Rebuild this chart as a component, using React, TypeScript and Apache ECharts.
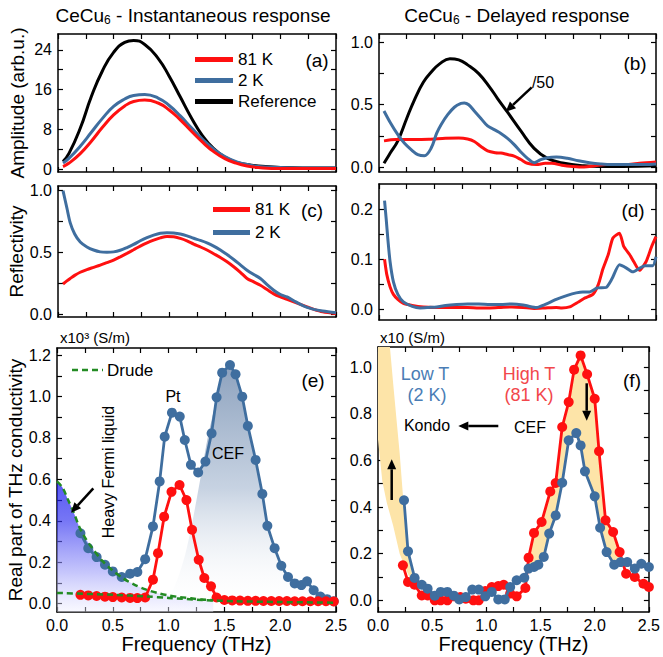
import React, { useEffect, useRef } from 'react';
import * as echarts from 'echarts';

const FONT = '"Liberation Sans", Arial, Helvetica, sans-serif';
const RED = '#ff1010';
const BLUE = '#3f6e9f';
const BLACK = '#000000';
const GREEN = '#238b23';
const YELLOW = '#fde4a8';

// ---- tick values ----
const X_TICKS = [0, 0.25, 0.5, 0.75, 1, 1.25, 1.5, 1.75, 2, 2.25, 2.5];
const X_LABELS = [0, 0.5, 1, 1.5, 2, 2.5];
const A_TICKS = [0, 4, 8, 12, 16, 20, 24];
const A_LABELS = [0, 8, 16, 24];
const B_TICKS = [0, 0.25, 0.5, 0.75, 1];
const B_LABELS = [0, 0.5, 1];
const C_TICKS = [0, 0.25, 0.5, 0.75, 1];
const C_LABELS = [0, 0.5, 1];
const D_TICKS = [0, 0.05, 0.1, 0.15, 0.2];
const D_LABELS = [0, 0.1, 0.2];
const E_TICKS = [0, 0.1, 0.2, 0.3, 0.4, 0.5, 0.6, 0.7, 0.8, 0.9, 1.0, 1.1, 1.2];
const E_LABELS = [0, 0.2, 0.4, 0.6, 0.8, 1.0, 1.2];
const F_TICKS = [0, 0.1, 0.2, 0.3, 0.4, 0.5, 0.6, 0.7, 0.8, 0.9, 1.0];
const F_LABELS = [0, 0.2, 0.4, 0.6, 0.8, 1.0];

// ---- panel (a): instantaneous amplitude ----
const aX = [0.045, 0.1, 0.2, 0.3, 0.4, 0.5, 0.6, 0.68, 0.78, 0.9, 1.0, 1.1, 1.2, 1.3, 1.4, 1.5, 1.6, 1.7, 1.8, 2.0, 2.2, 2.5];
const aRef = [1.5, 3.2, 8.2, 14.6, 19.8, 23.5, 25.5, 25.9, 25.1, 22.3, 18.7, 14.5, 10.3, 6.7, 4.1, 2.4, 1.4, 0.9, 0.6, 0.3, 0.2, 0.2];
const a2K = [1.2, 2.2, 4.6, 7.4, 10.2, 12.6, 14.1, 14.8, 15.0, 14.3, 12.8, 10.7, 8.3, 6.0, 4.0, 2.5, 1.5, 0.9, 0.5, 0.3, 0.2, 0.2];
const a81K = [0.5, 1.2, 3.1, 5.6, 8.4, 10.9, 12.7, 13.6, 13.9, 13.3, 11.9, 9.9, 7.6, 5.4, 3.5, 2.1, 1.2, 0.6, 0.3, 0.1, 0.1, 0.1];

// ---- panel (b): delayed amplitude ----
const bRefX = [0.045, 0.1, 0.17, 0.25, 0.32, 0.4, 0.47, 0.55, 0.64, 0.72, 0.8, 0.9, 1.0, 1.07, 1.16, 1.28, 1.4, 1.52, 1.67, 1.85, 2.0, 2.2, 2.5];
const bRef = [0.03, 0.11, 0.21, 0.39, 0.54, 0.68, 0.76, 0.83, 0.87, 0.86, 0.82, 0.75, 0.64, 0.55, 0.44, 0.29, 0.15, 0.07, 0.03, 0.01, 0.005, 0.005, 0.01];
const b2KX = [0.045, 0.1, 0.17, 0.23, 0.29, 0.35, 0.41, 0.47, 0.52, 0.56, 0.62, 0.68, 0.74, 0.77, 0.81, 0.86, 0.92, 0.98, 1.04, 1.1, 1.16, 1.22, 1.28, 1.34, 1.4, 1.46, 1.52, 1.6, 1.7, 1.8, 1.9, 2.0, 2.1, 2.2, 2.3, 2.4, 2.5];
const b2K = [0.45, 0.36, 0.26, 0.19, 0.14, 0.1, 0.09, 0.15, 0.27, 0.34, 0.42, 0.48, 0.51, 0.515, 0.5, 0.45, 0.39, 0.33, 0.3, 0.27, 0.23, 0.18, 0.12, 0.07, 0.035, 0.06, 0.075, 0.08, 0.07, 0.05, 0.035, 0.025, 0.02, 0.02, 0.02, 0.02, 0.025];
const b81KX = [0.045, 0.15, 0.3, 0.45, 0.6, 0.72, 0.8, 0.86, 0.92, 0.98, 1.05, 1.1, 1.16, 1.22, 1.28, 1.34, 1.42, 1.5, 1.56, 1.65, 1.75, 1.85, 1.95, 2.05, 2.15, 2.25, 2.35, 2.5];
const b81K = [0.21, 0.22, 0.22, 0.222, 0.23, 0.233, 0.225, 0.205, 0.165, 0.13, 0.115, 0.112, 0.1, 0.088, 0.06, 0.03, 0.02, 0.03, 0.03, 0.015, 0.005, 0.0, 0.01, 0.02, 0.02, 0.02, 0.03, 0.04];

// ---- panel (c): instantaneous reflectivity ----
const cX = [0.045, 0.08, 0.11, 0.15, 0.2, 0.26, 0.32, 0.38, 0.44, 0.5, 0.56, 0.62, 0.68, 0.74, 0.8, 0.86, 0.92, 0.98, 1.04, 1.1, 1.16, 1.22, 1.28, 1.34, 1.4, 1.46, 1.52, 1.58, 1.64, 1.7, 1.76, 1.82, 1.88, 1.94, 2.0, 2.06, 2.12, 2.18, 2.24, 2.3, 2.38, 2.5];
const c2K = [1.0, 0.86, 0.74, 0.65, 0.585, 0.545, 0.52, 0.505, 0.502, 0.505, 0.518, 0.54, 0.565, 0.595, 0.62, 0.64, 0.655, 0.66, 0.658, 0.65, 0.635, 0.615, 0.598, 0.578, 0.552, 0.52, 0.483, 0.443, 0.4, 0.357, 0.322, 0.29, 0.24, 0.195, 0.16, 0.14, 0.11, 0.08, 0.056, 0.04, 0.027, 0.012];
const c81K = [0.245, 0.27, 0.29, 0.315, 0.34, 0.362, 0.38, 0.398, 0.418, 0.438, 0.465, 0.493, 0.522, 0.552, 0.578, 0.6, 0.618, 0.63, 0.628, 0.614, 0.594, 0.568, 0.545, 0.52, 0.49, 0.46, 0.425, 0.385, 0.34, 0.29, 0.262, 0.235, 0.2, 0.165, 0.14, 0.12, 0.1, 0.08, 0.06, 0.04, 0.02, 0.005];

// ---- panel (d): delayed reflectivity ----
const d2KX = [0.05, 0.065, 0.08, 0.1, 0.13, 0.17, 0.22, 0.3, 0.37, 0.45, 0.52, 0.6, 0.7, 0.8, 0.9, 1.0, 1.1, 1.2, 1.3, 1.36, 1.42, 1.5, 1.6, 1.7, 1.78, 1.84, 1.9, 1.97, 2.05, 2.1, 2.17, 2.23, 2.29, 2.35, 2.4, 2.47, 2.5];
const d2K = [0.217, 0.18, 0.14, 0.095, 0.055, 0.03, 0.015, 0.006, 0.003, 0.004, 0.005, 0.008, 0.01, 0.011, 0.011, 0.01, 0.01, 0.011, 0.009, 0.006, 0.004, 0.01, 0.02, 0.028, 0.033, 0.035, 0.035, 0.043, 0.044, 0.06, 0.089, 0.083, 0.075, 0.082, 0.087, 0.087, 0.105];
const d81KX = [0.05, 0.07, 0.1, 0.13, 0.17, 0.22, 0.3, 0.4, 0.5, 0.6, 0.7, 0.8, 0.9, 1.0, 1.1, 1.2, 1.3, 1.4, 1.5, 1.6, 1.65, 1.72, 1.8, 1.86, 1.93, 1.98, 2.02, 2.07, 2.11, 2.17, 2.21, 2.26, 2.3, 2.35, 2.41, 2.46, 2.5];
const d81K = [0.1, 0.07, 0.045, 0.03, 0.02, 0.012, 0.008, 0.005, 0.004, 0.004, 0.004, 0.004, 0.003, 0.003, 0.004, 0.005, 0.004, 0.002, 0.003, 0.004, 0.003, 0.005, 0.015, 0.023, 0.03, 0.05, 0.08, 0.11, 0.142, 0.152, 0.125, 0.11, 0.095, 0.078, 0.095, 0.125, 0.145];

// ---- panel (e): instantaneous conductivity (x10^3 S/m) ----
const e2KX = [0.21, 0.28, 0.355, 0.43, 0.5, 0.58, 0.655, 0.72, 0.79, 0.86, 0.92, 0.965, 1.03, 1.1, 1.145, 1.2, 1.265, 1.33, 1.385, 1.43, 1.48, 1.55, 1.6, 1.66, 1.71, 1.78, 1.84, 1.885, 1.95, 2.01, 2.07, 2.13, 2.19, 2.24, 2.3, 2.36, 2.42, 2.48];
const e2K = [0.34, 0.268, 0.225, 0.188, 0.156, 0.129, 0.145, 0.153, 0.215, 0.373, 0.59, 0.806, 0.922, 0.903, 0.79, 0.67, 0.633, 0.686, 0.822, 0.996, 1.115, 1.152, 1.107, 0.999, 0.858, 0.694, 0.53, 0.376, 0.268, 0.183, 0.129, 0.098, 0.09, 0.108, 0.065, 0.035, 0.022, 0.012];
const e81KX = [0.21, 0.28, 0.355, 0.43, 0.5, 0.58, 0.655, 0.72, 0.79, 0.86, 0.905, 0.96, 1.026, 1.098, 1.16, 1.21, 1.27, 1.32, 1.38, 1.43, 1.5, 1.57, 1.64, 1.71, 1.78, 1.85, 1.92, 1.99, 2.06, 2.13, 2.2, 2.27, 2.34, 2.41, 2.48];
const e81K = [0.043, 0.04, 0.037, 0.034, 0.032, 0.03, 0.028, 0.027, 0.03, 0.116, 0.244, 0.42, 0.54, 0.573, 0.5, 0.357, 0.212, 0.124, 0.084, 0.03, 0.018, 0.016, 0.015, 0.014, 0.014, 0.013, 0.013, 0.013, 0.013, 0.012, 0.012, 0.012, 0.012, 0.012, 0.011];
const drudeHiX = [0, 0.05, 0.1, 0.15, 0.2, 0.25, 0.3, 0.4, 0.5, 0.6, 0.7, 0.8, 0.9, 1.0, 1.1, 1.2, 1.3, 1.4];
const drudeHi = [0.59, 0.56, 0.5, 0.44, 0.37, 0.32, 0.28, 0.21, 0.16, 0.12, 0.09, 0.068, 0.052, 0.04, 0.032, 0.026, 0.02, 0.017];
const drudeLoX = [0, 0.5, 0.8, 1.0, 1.3, 1.6, 2.0, 2.5];
const drudeLo = [0.052, 0.043, 0.035, 0.028, 0.018, 0.012, 0.008, 0.005];
const cefFillX = [0.9, 1.0, 1.05, 1.1, 1.15, 1.2, 1.25, 1.3, 1.35, 1.4, 1.45, 1.5, 1.55, 1.6, 1.66, 1.71, 1.78, 1.84, 1.885, 1.95, 2.01, 2.07, 2.13, 2.19, 2.24, 2.3, 2.36, 2.42, 2.48];
const cefFill = [0, 0.03, 0.08, 0.15, 0.24, 0.36, 0.5, 0.65, 0.8, 0.92, 1.04, 1.12, 1.152, 1.107, 0.999, 0.858, 0.694, 0.53, 0.376, 0.268, 0.183, 0.129, 0.098, 0.09, 0.108, 0.065, 0.035, 0.022, 0.012];

// ---- panel (f): delayed conductivity (x10 S/m) ----
const f2KX = [0.24, 0.277, 0.338, 0.404, 0.458, 0.524, 0.578, 0.64, 0.70, 0.75, 0.81, 0.87, 0.93, 0.99, 1.05, 1.11, 1.17, 1.22, 1.28, 1.35, 1.39, 1.44, 1.48, 1.53, 1.58, 1.64, 1.70, 1.76, 1.83, 1.87, 1.91, 2.0, 2.05, 2.11, 2.18, 2.24, 2.30, 2.37, 2.43, 2.50];
const f2K = [0.429, 0.21, 0.096, 0.067, 0.05, 0.02, 0.036, 0.036, 0.02, 0.004, 0.014, 0.046, 0.046, 0.017, 0.036, 0.004, 0.004, 0.057, 0.086, 0.097, 0.136, 0.143, 0.153, 0.186, 0.286, 0.364, 0.504, 0.686, 0.717, 0.664, 0.553, 0.446, 0.311, 0.207, 0.153, 0.164, 0.164, 0.136, 0.157, 0.143];
const f81KX = [0.23, 0.277, 0.338, 0.404, 0.458, 0.524, 0.578, 0.64, 0.70, 0.76, 0.81, 0.88, 0.93, 0.99, 1.05, 1.11, 1.16, 1.22, 1.28, 1.36, 1.39, 1.44, 1.51, 1.59, 1.64, 1.70, 1.76, 1.81, 1.87, 1.93, 2.00, 2.04, 2.10, 2.17, 2.23, 2.29, 2.37, 2.45, 2.50];
const f81K = [0.15, 0.079, 0.067, 0.021, 0.021, 0.0, 0.0, 0.0, 0.017, 0.014, 0.007, 0.0, 0.0, 0.04, 0.057, 0.061, 0.067, 0.029, 0.017, 0.053, 0.183, 0.289, 0.336, 0.467, 0.503, 0.743, 0.85, 0.989, 1.05, 0.969, 0.864, 0.639, 0.343, 0.293, 0.207, 0.114, 0.1, 0.071, 0.057];
const kondoX = [0, 0.04, 0.08, 0.11, 0.14, 0.17, 0.2, 0.23, 0.26, 0.29, 0.32, 0.34];
const kondoUp = [1.7, 1.45, 1.25, 1.086, 0.93, 0.78, 0.63, 0.45, 0.3, 0.17, 0.1, 0.08];
const kondoLo = [0.69, 0.51, 0.42, 0.37, 0.32, 0.26, 0.2, 0.165, 0.13, 0.1, 0.085, 0.08];

const zip = (xs: number[], ys: number[]) => xs.map((x, i) => [x, ys[i]]);

type Panel = {
  left: number; top: number; width: number; height: number;
  yMin: number; yMax: number; yTicks: number[]; yLabels: number[];
  yFmt: (v: number) => string; xLabels: boolean; xName?: string; yName?: string; yNameGap?: number;
};

const fx1 = (v: number) => v.toFixed(1);

const PANELS: Panel[] = [
  { left: 58, top: 34, width: 278, height: 138, yMin: -0.6, yMax: 27.2, yTicks: A_TICKS, yLabels: A_LABELS, yFmt: (v) => String(Math.round(v)), xLabels: false, yName: 'Amplitude (arb.u.)', yNameGap: 31 },
  { left: 379, top: 34, width: 277, height: 138, yMin: -0.04, yMax: 1.068, yTicks: B_TICKS, yLabels: B_LABELS, yFmt: fx1, xLabels: false },
  { left: 58, top: 186, width: 278, height: 131, yMin: -0.022, yMax: 1.038, yTicks: C_TICKS, yLabels: C_LABELS, yFmt: fx1, xLabels: false, yName: 'Reflectivity', yNameGap: 31 },
  { left: 379, top: 184, width: 277, height: 136, yMin: -0.021, yMax: 0.25, yTicks: D_TICKS, yLabels: D_LABELS, yFmt: fx1, xLabels: false },
  { left: 57, top: 348, width: 279, height: 264, yMin: -0.04, yMax: 1.234, yTicks: E_TICKS, yLabels: E_LABELS, yFmt: fx1, xLabels: true, xName: 'Frequency (THz)', yName: 'Real part of THz conductivity', yNameGap: 30 },
  { left: 378, top: 347, width: 278, height: 265, yMin: -0.05, yMax: 1.086, yTicks: F_TICKS, yLabels: F_LABELS, yFmt: fx1, xLabels: true, xName: 'Frequency (THz)' },
];

const axisLine = { show: true, onZero: false, lineStyle: { color: '#000', width: 1.5 } };
const tickStyle = { color: '#000', width: 1.2 };

function buildAxes() {
  const grid: any[] = [];
  const xAxis: any[] = [];
  const yAxis: any[] = [];
  PANELS.forEach((p, gi) => {
    grid.push({ left: p.left, top: p.top, width: p.width, height: p.height, containLabel: false });
    xAxis.push({
      type: 'value', gridIndex: gi, position: 'bottom', min: 0, max: 2.5,
      axisLine, splitLine: { show: false },
      axisTick: { show: true, inside: true, length: 5, customValues: X_TICKS, lineStyle: tickStyle },
      axisLabel: { show: p.xLabels, customValues: X_LABELS, formatter: fx1, fontSize: 16, color: '#000', fontFamily: FONT, margin: 5 },
      name: p.xName || '', nameLocation: 'middle', nameGap: 21,
      nameTextStyle: { fontSize: 20, color: '#000', fontFamily: FONT },
    });
    xAxis.push({
      type: 'value', gridIndex: gi, position: 'top', min: 0, max: 2.5,
      axisLine, splitLine: { show: false },
      axisTick: { show: true, inside: true, length: 5, customValues: X_TICKS, lineStyle: tickStyle },
      axisLabel: { show: false },
    });
    yAxis.push({
      type: 'value', gridIndex: gi, position: 'left', min: p.yMin, max: p.yMax,
      axisLine, splitLine: { show: false },
      axisTick: { show: true, inside: true, length: 5, customValues: p.yTicks, lineStyle: tickStyle },
      axisLabel: { show: true, customValues: p.yLabels, formatter: p.yFmt, fontSize: 16, color: '#000', fontFamily: FONT, margin: 6 },
      name: p.yName || '', nameLocation: 'middle', nameGap: p.yNameGap || 30,
      nameTextStyle: { fontSize: 19, color: '#000', fontFamily: FONT },
    });
    yAxis.push({
      type: 'value', gridIndex: gi, position: 'right', min: p.yMin, max: p.yMax,
      axisLine, splitLine: { show: false },
      axisTick: { show: true, inside: true, length: 5, customValues: p.yTicks, lineStyle: tickStyle },
      axisLabel: { show: false },
    });
  });
  return { grid, xAxis, yAxis };
}

function curve(name: string, gi: number, xs: number[], ys: number[], color: string, smooth = 0.45, width = 3) {
  return {
    type: 'line', name, xAxisIndex: 2 * gi, yAxisIndex: 2 * gi,
    data: zip(xs, ys), symbol: 'none', smooth,
    color, lineStyle: { color, width }, z: 3, silent: true,
  };
}

function dots(name: string, gi: number, xs: number[], ys: number[], color: string, z = 4) {
  return {
    type: 'line', name, xAxisIndex: 2 * gi, yAxisIndex: 2 * gi,
    data: zip(xs, ys), symbol: 'circle', symbolSize: 10, showSymbol: true,
    color, itemStyle: { color }, lineStyle: { color, width: 2.8 }, z, silent: true,
  };
}

function band(gi: number, upper: number[][], lower: number[][], color: string) {
  return {
    type: 'custom', xAxisIndex: 2 * gi, yAxisIndex: 2 * gi, silent: true, z: 1,
    data: [upper[upper.length - 1]],
    renderItem: (params: any, api: any) => {
      const pts = upper.map((p) => api.coord(p)).concat(lower.slice().reverse().map((p) => api.coord(p)));
      const cs = params.coordSys;
      return {
        type: 'polygon',
        shape: { points: pts },
        style: { fill: color },
        clipPath: { type: 'rect', shape: { x: cs.x, y: cs.y, width: cs.width, height: cs.height } },
      };
    },
  };
}

function arrow(x1: number, y1: number, x2: number, y2: number, head = 10, half = 4.5) {
  const dx = x2 - x1, dy = y2 - y1, len = Math.hypot(dx, dy);
  const ux = dx / len, uy = dy / len;
  const bx = x2 - ux * head, by = y2 - uy * head;
  const px = -uy, py = ux;
  return [
    { type: 'line', shape: { x1, y1, x2: bx, y2: by }, style: { stroke: '#000', lineWidth: 2.5 }, z: 100 },
    { type: 'polygon', shape: { points: [[x2, y2], [bx + px * half, by + py * half], [bx - px * half, by - py * half]] }, style: { fill: '#000' }, z: 100 },
  ];
}

function txt(text: string, x: number, y: number, size = 16, color = '#000', align = 'center', rotation = 0) {
  return {
    type: 'text', x, y, rotation, z: 100,
    style: { text, fill: color, fontSize: size, fontFamily: FONT, align, verticalAlign: 'middle' },
  };
}

function titleText(main: string, rest: string, x: number, y: number) {
  return {
    type: 'text', x, y, z: 100,
    style: {
      text: `{a|${main}}{s|6}{a|${rest}}`,
      align: 'center', verticalAlign: 'middle', fill: '#000',
      rich: {
        a: { fontSize: 19, fontFamily: FONT, fill: '#000' },
        s: { fontSize: 12, fontFamily: FONT, fill: '#000', padding: [10, 0, 0, 0] },
      },
    },
  };
}

function buildOption() {
  const { grid, xAxis, yAxis } = buildAxes();
  const redPeak = zip(f81KX, f81K).filter((p) => p[0] >= 1.36 && p[0] <= 2.23);
  const bluePeak = zip(f2KX, f2K).filter((p) => p[0] >= 1.35 && p[0] <= 2.24);
  const series: any[] = [
    // (a)
    curve('Reference', 0, aX, aRef, BLACK, 0.5),
    curve('2 K', 0, aX, a2K, BLUE, 0.5),
    curve('81 K', 0, aX, a81K, RED, 0.5),
    // (b)
    curve('Reference', 1, bRefX, bRef, BLACK, 0.45),
    curve('81 K', 1, b81KX, b81K, RED, 0.3),
    curve('2 K', 1, b2KX, b2K, BLUE, 0.35),
    // (c)
    curve('81 K', 2, cX, c81K, RED, 0.3),
    curve('2 K', 2, cX, c2K, BLUE, 0.3),
    // (d)
    curve('81 K', 3, d81KX, d81K, RED, 0.2),
    curve('2 K', 3, d2KX, d2K, BLUE, 0.2),
    // (e) fills
    {
      type: 'line', name: 'CEF area', xAxisIndex: 8, yAxisIndex: 8, data: zip(cefFillX, cefFill),
      symbol: 'none', smooth: 0.3, lineStyle: { width: 0, opacity: 0 }, silent: true, z: 1,
      areaStyle: {
        origin: 'start',
        color: new echarts.graphic.LinearGradient(0, 0, 0, 1, [
          { offset: 0, color: 'rgba(92,122,162,1)' },
          { offset: 0.5, color: 'rgba(168,186,210,0.92)' },
          { offset: 1, color: 'rgba(255,255,255,0)' },
        ]),
      },
    },
    {
      type: 'line', name: 'Drude area', xAxisIndex: 8, yAxisIndex: 8, data: zip(drudeHiX, drudeHi),
      symbol: 'none', smooth: 0.3, lineStyle: { width: 0, opacity: 0 }, silent: true, z: 1,
      areaStyle: {
        origin: 'start',
        color: new echarts.graphic.LinearGradient(0, 0, 0, 1, [
          { offset: 0, color: 'rgba(15,15,240,1)' },
          { offset: 0.3, color: 'rgba(50,50,240,0.95)' },
          { offset: 0.7, color: 'rgba(160,160,250,0.85)' },
          { offset: 1, color: 'rgba(240,240,255,0.6)' },
        ]),
      },
    },
    dots('σ 2 K', 4, e2KX, e2K, BLUE, 3),
    dots('σ 81 K', 4, e81KX, e81K, RED, 4),
    {
      type: 'line', name: 'Drude', xAxisIndex: 8, yAxisIndex: 8, data: zip(drudeHiX, drudeHi),
      symbol: 'none', smooth: 0.3, color: GREEN, lineStyle: { color: GREEN, width: 2.5, type: [6, 4] }, z: 6, silent: true,
    },
    {
      type: 'line', name: 'Drude', xAxisIndex: 8, yAxisIndex: 8, data: zip(drudeLoX, drudeLo),
      symbol: 'none', smooth: 0.3, color: GREEN, lineStyle: { color: GREEN, width: 2.5, type: [6, 4] }, z: 6, silent: true,
    },
    // (f)
    band(5, zip(kondoX, kondoUp), zip(kondoX, kondoLo), YELLOW),
    band(5, redPeak, bluePeak, YELLOW),
    dots('Δσ 81 K', 5, f81KX, f81K, RED, 3),
    dots('Δσ 2 K', 5, f2KX, f2K, BLUE, 4),
  ];

  const legendText = { fontSize: 17, color: '#000', fontFamily: FONT };
  const legend = [
    {
      data: ['81 K', '2 K', 'Reference'], orient: 'vertical', left: 195, top: 51, padding: 0,
      itemWidth: 38, itemHeight: 5, itemGap: 4, icon: 'rect', selectedMode: false, textStyle: legendText,
    },
    {
      data: ['81 K', '2 K'], orient: 'vertical', left: 213, top: 201, padding: 0,
      itemWidth: 37, itemHeight: 5, itemGap: 6, icon: 'rect', selectedMode: false, textStyle: legendText,
    },
  ];

  const graphic: any[] = [
    titleText('CeCu', ' - Instantaneous response', 193, 15),
    titleText('CeCu', ' - Delayed response', 517, 15),
    txt('(a)', 317, 60, 19),
    txt('(b)', 635, 63, 19),
    txt('(c)', 312, 210, 19),
    txt('(d)', 633, 210, 19),
    txt('(e)', 313, 380, 19),
    txt('(f)', 632, 380, 19),
    txt('/50', 543, 82, 16),
    ...arrow(531.7, 87.3, 505.7, 111.7),
    {
      type: 'text', x: 60, y: 337, z: 100,
      style: { text: 'x10³ (S/m)', fill: '#000', fontSize: 15, fontFamily: FONT, align: 'left', verticalAlign: 'middle' },
    },
    {
      type: 'text', x: 380, y: 337, z: 100,
      style: { text: 'x10 (S/m)', fill: '#000', fontSize: 15, fontFamily: FONT, align: 'left', verticalAlign: 'middle' },
    },
    // Drude legend
    { type: 'line', shape: { x1: 72, y1: 370, x2: 103, y2: 370 }, style: { stroke: GREEN, lineWidth: 2.5, lineDash: [6, 4] }, z: 100 },
    {
      type: 'text', x: 107, y: 370, z: 100,
      style: { text: 'Drude', fill: '#000', fontSize: 17, fontFamily: FONT, align: 'left', verticalAlign: 'middle' },
    },
    txt('Pt', 173, 396, 16),
    txt('CEF', 228, 453, 16),
    txt('Heavy Fermi liquid', 108, 472, 16, '#000', 'center', Math.PI / 2),
    ...arrow(93.3, 488.3, 71, 512.7),
    txt('Low T', 425, 374, 18, '#4a7db5'),
    txt('(2 K)', 427, 395, 18, '#4a7db5'),
    txt('High T', 529, 374, 18, '#f2474b'),
    txt('(81 K)', 529, 395, 18, '#f2474b'),
    txt('Kondo', 427, 425, 16),
    txt('CEF', 530, 427, 16),
    ...arrow(498.3, 426, 458.3, 426),
    ...arrow(391.7, 500, 391.7, 459.3),
    ...arrow(586.7, 383.3, 586.7, 420.7),
  ];

  return {
    animation: false,
    backgroundColor: '#ffffff',
    textStyle: { fontFamily: FONT },
    grid, xAxis, yAxis, series, legend, graphic,
  };
}

export default function App() {
  const ref = useRef<HTMLDivElement>(null);
  useEffect(() => {
    if (!ref.current) return;
    const chart = echarts.init(ref.current, undefined, { renderer: 'svg' });
    chart.setOption(buildOption() as any);
    return () => chart.dispose();
  }, []);
  return <div ref={ref} style={{ position: 'fixed', left: 0, top: 0, width: 663, height: 657, background: '#fff' }} />;
}
